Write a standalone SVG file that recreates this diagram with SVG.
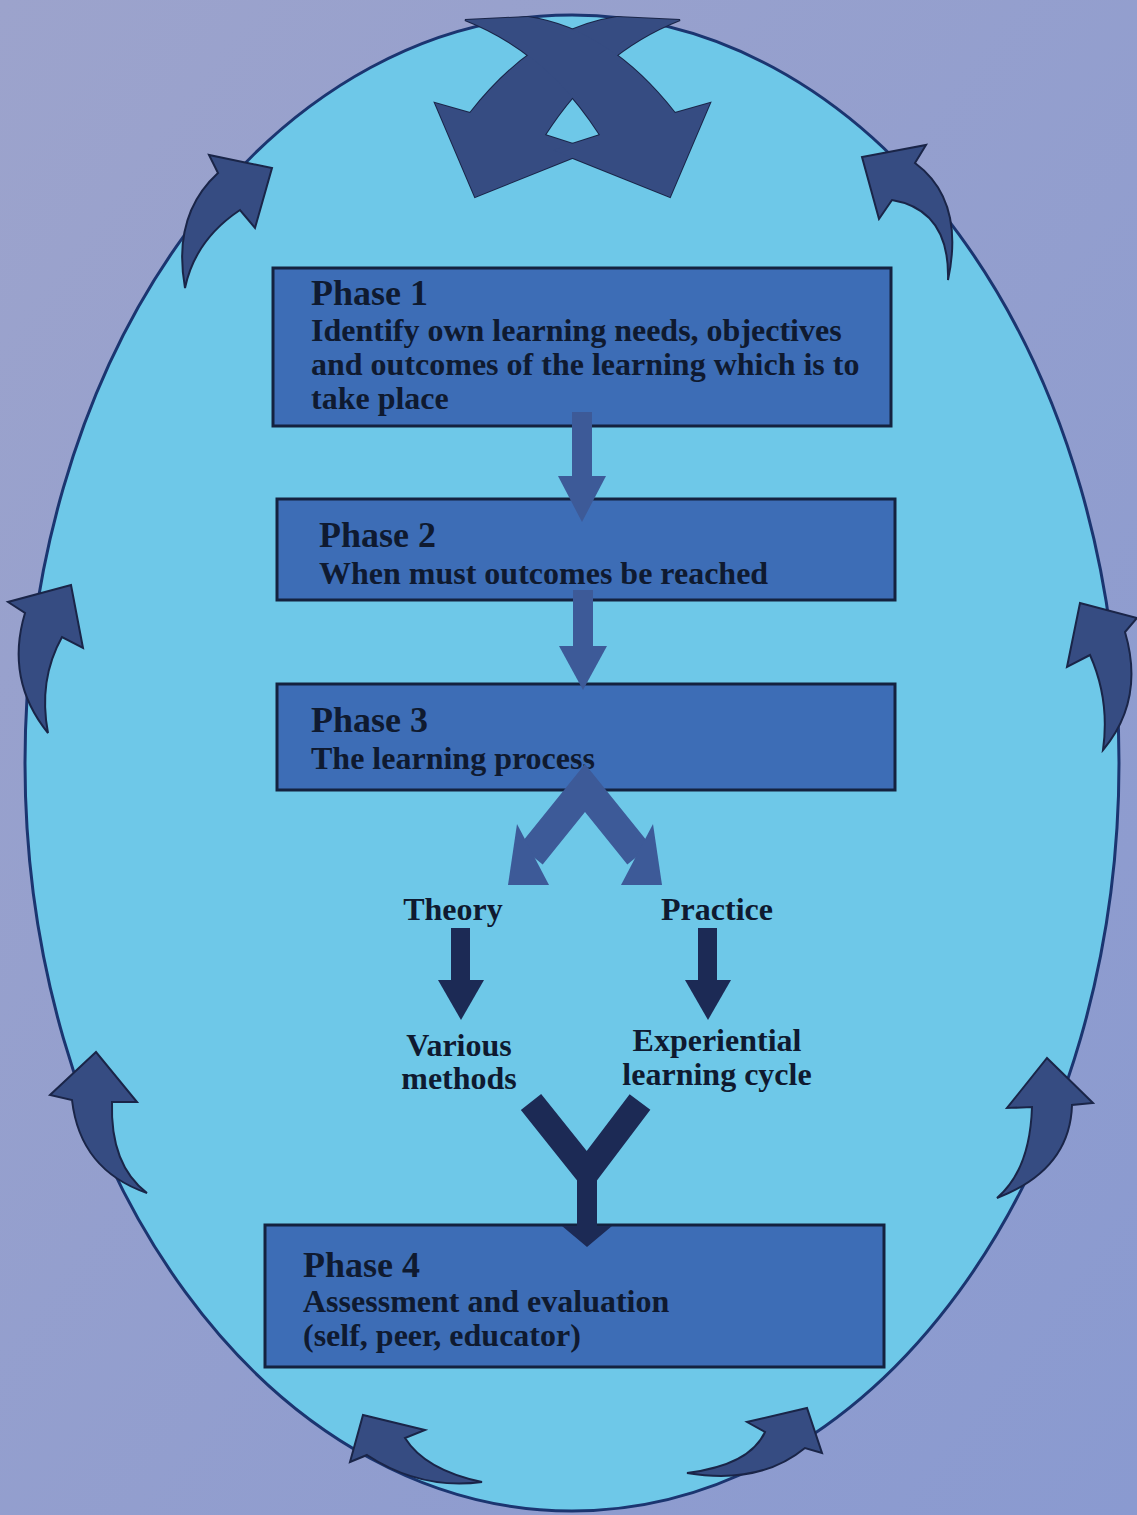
<svg xmlns="http://www.w3.org/2000/svg" width="1137" height="1515" viewBox="0 0 1137 1515">
  <defs>
    <linearGradient id="bg" x1="0" y1="0" x2="1" y2="1">
      <stop offset="0" stop-color="#9ca3cc"/>
      <stop offset="1" stop-color="#8a9ad0"/>
    </linearGradient>
    <style>
      .box { fill: #3d6db6; stroke: #14223f; stroke-width: 3; }
      .head { font-family: "Liberation Serif", "Times New Roman", serif; font-weight: bold; font-size: 36px; fill: #0f1a30; }
      .body { font-family: "Liberation Serif", "Times New Roman", serif; font-weight: bold; font-size: 32px; fill: #0f1a30; }
      .label { font-family: "Liberation Serif", "Times New Roman", serif; font-weight: bold; font-size: 32px; fill: #0f1a30; text-anchor: middle; }
      .loop { fill: #364c82; stroke: #1a2548; stroke-width: 2; stroke-linejoin: miter; }
      .loop-fill { fill: #364c82; }
      .mid { fill: #3d5a98; }
      .mid-line { fill: none; stroke: #3d5a98; stroke-linejoin: miter; }
      .dark { fill: #1c2a55; }
      .dark-line { fill: none; stroke: #1c2a55; stroke-linejoin: miter; }
    </style>
  </defs>

  <!-- backdrop and outer cycle -->
  <rect x="0" y="0" width="1137" height="1515" fill="url(#bg)"/>
  <ellipse cx="572" cy="763" rx="547" ry="748" fill="#6ec8e8" stroke="#1b3570" stroke-width="3"/>

  <!-- curved arrows around the cycle -->
  <g id="cycle-arrows">
    <path class="loop" d="M185,288 Q172,215 218,173 L209,155 L272,168 L255,228 L240,210 Q195,240 185,288 Z"/>
    <path class="loop" d="M948,280 Q965,200 915,163 L926,145 L862,157 L879,219 L892,200 Q950,210 948,280 Z"/>
    <path class="loop" d="M48,733 Q5,680 25,613 L8,602 L71,585 L83,648 L62,637 Q38,680 48,733 Z"/>
    <path class="loop" d="M1103,750 Q1145,700 1125,632 L1137,618 L1080,603 L1067,667 L1090,655 Q1110,700 1103,750 Z"/>
    <path class="loop" d="M147,1193 Q80,1170 72,1100 L50,1095 L96,1052 L137,1102 L112,1102 Q110,1165 147,1193 Z"/>
    <path class="loop" d="M997,1198 Q1070,1170 1072,1105 L1093,1103 L1047,1058 L1007,1108 L1032,1107 Q1030,1170 997,1198 Z"/>
    <path class="loop" d="M482,1482 Q425,1470 405,1438 L425,1430 L363,1415 L350,1462 L367,1455 Q420,1490 482,1482 Z"/>
    <path class="loop" d="M687,1473 Q750,1465 765,1432 L747,1422 L807,1408 L822,1453 L805,1448 Q760,1485 687,1473 Z"/>
    <!-- crossing pair at the top: outlines first, then fills to hide the overlap -->
    <path class="loop" stroke-width="3" d="M617,17 Q536,29 470,113 L435,103 L475,197 L592,150 L545,135 Q598,52 680,20 Z"/>
    <path class="loop" stroke-width="3" d="M528,17 Q609,29 675,113 L710,103 L670,197 L553,150 L600,135 Q547,52 465,20 Z"/>
    <path class="loop-fill" d="M617,17 Q536,29 470,113 L435,103 L475,197 L592,150 L545,135 Q598,52 680,20 Z"/>
    <path class="loop-fill" d="M528,17 Q609,29 675,113 L710,103 L670,197 L553,150 L600,135 Q547,52 465,20 Z"/>
  </g>

  <g id="phase1">
    <rect class="box" x="273" y="268" width="618" height="158"/>
    <text class="head" x="311" y="305">Phase 1</text>
    <text class="body" x="311" y="341">Identify own learning needs, objectives</text>
    <text class="body" x="311" y="375">and outcomes of the learning which is to</text>
    <text class="body" x="311" y="409">take place</text>
  </g>

  <g id="phase2">
    <rect class="box" x="277" y="499" width="618" height="101"/>
    <text class="head" x="319" y="547">Phase 2</text>
    <text class="body" x="319" y="584">When must outcomes be reached</text>
  </g>

  <g id="phase3">
    <rect class="box" x="277" y="684" width="618" height="106"/>
    <text class="head" x="311" y="732">Phase 3</text>
    <text class="body" x="311" y="769">The learning process</text>
  </g>

  <g id="theory">
    <text class="label" x="453" y="920">Theory</text>
  </g>
  <g id="practice">
    <text class="label" x="717" y="920">Practice</text>
  </g>
  <g id="various-methods">
    <text class="label" x="459" y="1056">Various</text>
    <text class="label" x="459" y="1089">methods</text>
  </g>
  <g id="experiential-cycle">
    <text class="label" x="717" y="1051">Experiential</text>
    <text class="label" x="717" y="1085">learning cycle</text>
  </g>

  <g id="phase4">
    <rect class="box" x="265" y="1225" width="619" height="142"/>
    <text class="head" x="303" y="1277">Phase 4</text>
    <text class="body" x="303" y="1312">Assessment and evaluation</text>
    <text class="body" x="303" y="1346">(self, peer, educator)</text>
  </g>

  <g id="connectors">
    <!-- Phase 1 to Phase 2 -->
    <rect class="mid" x="572" y="412" width="20" height="68"/>
    <polygon class="mid" points="558,476 606,476 582,522"/>
    <!-- Phase 2 to Phase 3 -->
    <rect class="mid" x="573" y="590" width="20" height="60"/>
    <polygon class="mid" points="559,646 607,646 583,690"/>
    <!-- Phase 3 splits into theory and practice -->
    <path class="mid-line" stroke-width="30" d="M531,855 L585,788 L639,855"/>
    <polygon class="mid" points="517,824 508,885 549,885"/>
    <polygon class="mid" points="653,824 662,885 621,885"/>
    <!-- Theory to methods, practice to cycle -->
    <rect class="dark" x="451" y="928" width="19" height="58"/>
    <polygon class="dark" points="438,980 484,980 461,1020"/>
    <rect class="dark" x="698" y="928" width="19" height="58"/>
    <polygon class="dark" points="685,980 731,980 708,1020"/>
    <!-- both routes join into Phase 4 -->
    <path class="dark-line" stroke-width="26" d="M531,1102 L587,1172 L640,1102"/>
    <rect class="dark" x="577" y="1165" width="20" height="64"/>
    <polygon class="dark" points="562,1226 612,1226 587,1247"/>
  </g>
</svg>
